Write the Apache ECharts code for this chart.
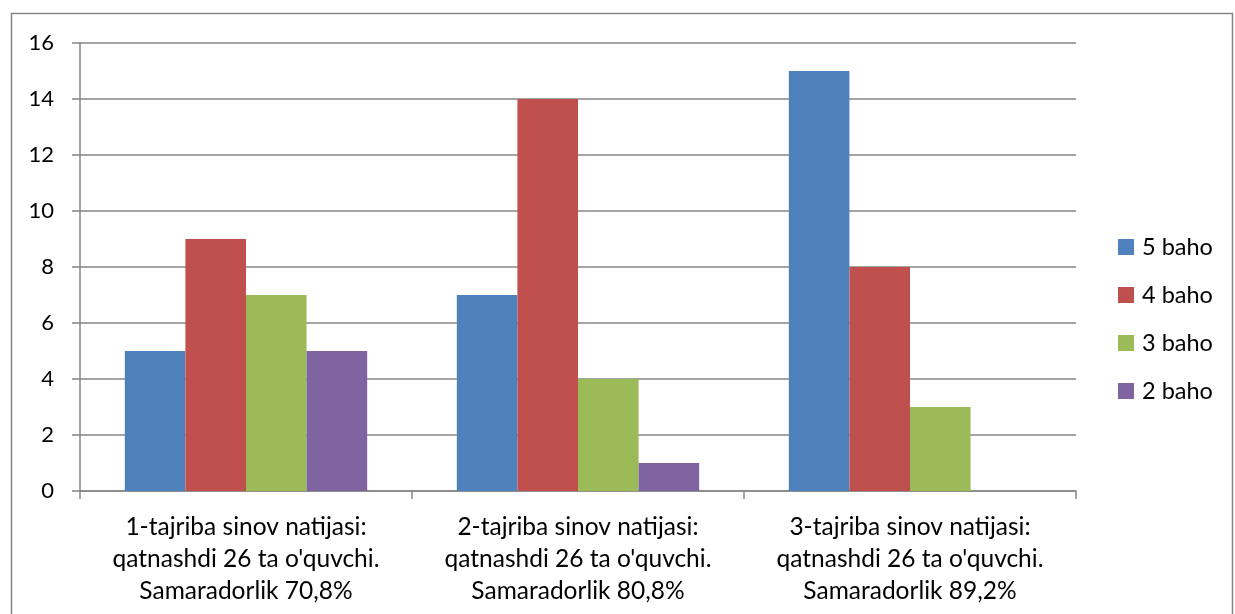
<!DOCTYPE html>
<html>
<head>
<meta charset="utf-8">
<script src="https://cdn.jsdelivr.net/npm/echarts@6/dist/echarts.min.js"></script>
<style>
html, body { margin: 0; padding: 0; background: #fff; }
#chart { width: 1235px; height: 614px; }
</style>
</head>
<body>
<div id="chart"></div>
<script>
var categories = [
	"1-tajriba sinov natijasi:\nqatnashdi 26 ta o'quvchi.\nSamaradorlik 70,8%",
	"2-tajriba sinov natijasi:\nqatnashdi 26 ta o'quvchi.\nSamaradorlik 80,8%",
	"3-tajriba sinov natijasi:\nqatnashdi 26 ta o'quvchi.\nSamaradorlik 89,2%"
];
var seriesNames = [ "5 baho", "4 baho", "3 baho", "2 baho" ];
var baho5 = [ 5, 7, 15 ];
var baho4 = [ 9, 14, 8 ];
var baho3 = [ 7, 4, 3 ];
var baho2 = [ 5, 1, 0 ];
var colors = [ "#4F81BD", "#C0504D", "#9BBB59", "#8064A2" ];

var font = "Lato";
var lineColor = "#868686";

function bar(name, data, color) {
	return {
		name : name,
		type : "bar",
		data : data,
		barGap : "0%",
		barCategoryGap : "27%",
		itemStyle : { color : color },
		emphasis : { disabled : true }
	};
}

var chart = echarts.init(document.getElementById("chart"));
chart.setOption({
	animation : false,
	color : colors,
	textStyle : { fontFamily : font },
	graphic : [ {
		type : "rect",
		shape : { x : 11.5, y : 13.5, width : 1221, height : 640 },
		style : { fill : "none", stroke : lineColor, lineWidth : 1.5 }
	} ],
	grid : { left : 80, right : 159, top : 43, bottom : 123 },
	legend : {
		orient : "vertical",
		left : 1118,
		top : 235,
		padding : 0,
		itemWidth : 16,
		itemHeight : 16,
		itemGap : 24,
		icon : "rect",
		textStyle : { fontSize : 23.5, color : "#000", fontFamily : font, padding : [ 0, 0, 0, 3 ] },
		data : seriesNames
	},
	xAxis : {
		type : "category",
		data : categories,
		axisLine : { lineStyle : { color : lineColor, width : 1.5 } },
		axisTick : { show : true, length : 8, lineStyle : { color : lineColor, width : 1.5 } },
		axisLabel : {
			color : "#000",
			fontSize : 24.5,
			lineHeight : 32,
			margin : 20,
			interval : 0,
			fontFamily : font
		}
	},
	yAxis : {
		type : "value",
		min : 0,
		max : 16,
		interval : 2,
		axisLine : { show : true, lineStyle : { color : lineColor, width : 1.5 } },
		axisTick : { show : true, length : 8, lineStyle : { color : lineColor, width : 1.5 } },
		splitLine : { lineStyle : { color : lineColor, width : 1.5 } },
		axisLabel : { color : "#000", fontSize : 22, margin : 26, fontFamily : font }
	},
	series : [
		bar(seriesNames[0], baho5, colors[0]),
		bar(seriesNames[1], baho4, colors[1]),
		bar(seriesNames[2], baho3, colors[2]),
		bar(seriesNames[3], baho2, colors[3])
	]
});
</script>
</body>
</html>
